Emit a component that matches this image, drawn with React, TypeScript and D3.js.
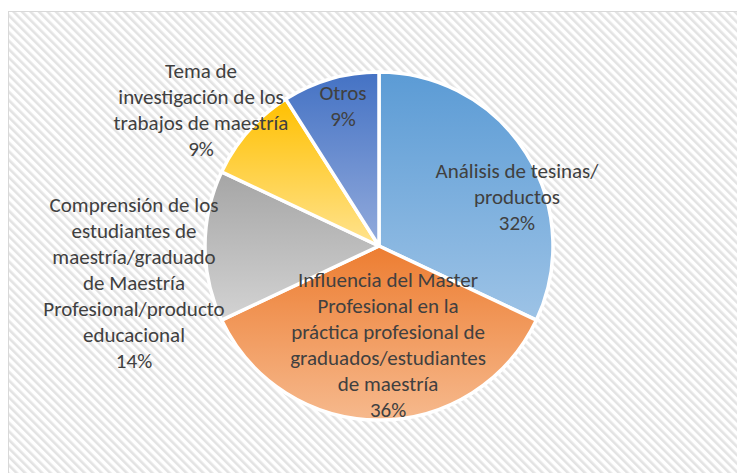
import React from "react";
import * as d3 from "d3";

const categories = [
  ["Análisis de tesinas/", "productos"],
  ["Influencia del Master", "Profesional en la", "práctica profesional de", "graduados/estudiantes", "de maestría"],
  ["Comprensión de los", "estudiantes de", "maestría/graduado", "de Maestría", "Profesional/producto", "educacional"],
  ["Tema de", "investigación de los", "trabajos de maestría"],
  ["Otros"],
];
const values = [32, 36, 14, 9, 9];
const percentLabels = ["32%", "36%", "14%", "9%", "9%"];
const topColors = ["#5b9bd5", "#ed7d31", "#a5a5a5", "#ffc000", "#4472c4"];
const bottomColors = ["#9dc3e6", "#f6b98d", "#d3d3d3", "#ffe38f", "#93abdc"];
// label block centres, relative to pie centre, in units of radius
const labelOffsets: [number, number][] = [
  [0.793, -0.282],
  [0.052, 0.569],
  [-1.408, 0.213],
  [-1.023, -0.784],
  [-0.207, -0.805],
];

const W = 737;
const H = 473;
const cx = 379;
const cy = 246;
const R = 174;
const FONT = 21;
const LINE = 26;

export default function App() {
  const pie = d3.pie<number>().sort(null).value((d) => d).startAngle(0).endAngle(2 * Math.PI);
  const arcs = pie(values);
  const arcGen = d3.arc<d3.PieArcDatum<number>>().innerRadius(0).outerRadius(R);

  return (
    <svg
      width={W}
      height={H}
      style={{ position: "absolute", left: 0, top: 0 }}
      fontFamily="Carlito, Calibri, Lato, 'Open Sans', sans-serif"
    >
      <defs>
        <pattern id="hatch" patternUnits="userSpaceOnUse" width="6" height="6" patternTransform="rotate(-45)">
          <rect width="6" height="6" fill="#ffffff" />
          <rect x="0" y="0" width="2.6" height="6" fill="#e3e3e3" />
        </pattern>
        {topColors.map((c, i) => (
          <linearGradient key={i} id={`g${i}`} x1="0" y1="0" x2="0" y2="1">
            <stop offset="0" stopColor={c} />
            <stop offset="1" stopColor={bottomColors[i]} />
          </linearGradient>
        ))}
      </defs>
      <rect x={0} y={0} width={W} height={H} fill="#ffffff" />
      <rect x={8.5} y={11.5} width={W + 10} height={H + 10} fill="url(#hatch)" stroke="#d9d9d9" strokeWidth={1} />
      <g transform={`translate(${cx},${cy})`}>
        {arcs.map((a, i) => (
          <path key={i} d={arcGen(a) || ""} fill={`url(#g${i})`} stroke="#ffffff" strokeWidth={3.5} strokeLinejoin="round" />
        ))}
        {arcs.map((a, i) => {
          const lines = [...categories[i], percentLabels[i]];
          const [ox, oy] = labelOffsets[i];
          const x = ox * R;
          const yMid = oy * R;
          const y0 = yMid - ((lines.length - 1) * LINE) / 2;
          return (
            <text key={i} textAnchor="middle" fontSize={FONT} fill="#404040">
              {lines.map((l, j) => (
                <tspan key={j} x={x} y={y0 + j * LINE + FONT * 0.33}>
                  {l}
                </tspan>
              ))}
            </text>
          );
        })}
      </g>
    </svg>
  );
}
